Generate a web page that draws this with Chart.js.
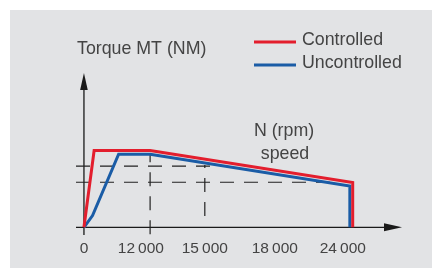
<!DOCTYPE html>
<html>
<head>
<meta charset="utf-8">
<script src="https://cdn.jsdelivr.net/npm/chart.js@4/dist/chart.umd.min.js"></script>
<style>
  html, body { margin: 0; padding: 0; background: #ffffff; }
  #panel { position: absolute; left: 10px; top: 10px; width: 422px; height: 258px; background: #e2e3e5; }
  #wrap { position: absolute; left: 0; top: 0; width: 432px; height: 268px; }
</style>
</head>
<body>
<div id="panel"></div>
<div id="wrap"><canvas id="torqueChart"></canvas></div>
<script>
// schematic axis units (the drawing is not to scale)
const xTickValues = [0, 1.79, 3.8, 6.0, 8.14];
const xTickLabels = ['0', '12\u2009000', '15\u2009000', '18\u2009000', '24\u2009000'];

const controlledX = [0, 0.32, 2.08, 8.45, 8.45];
const controlledY = [0, 4.97, 4.97, 2.9, 0];
const uncontrolledX = [0, 0.27, 1.09, 2.08, 8.36, 8.36];
const uncontrolledY = [0, 0.76, 4.74, 4.74, 2.68, 0];

// dashed guide lines
const hGuideY = [3.96, 2.92];
const hGuideEnd = [4.45, 8.05];
const vGuideX = [2.08, 3.8];
const vGuideFrom = [-0.45, 0.73];
const vGuideTo = [4.69, 4.04];

const seriesLabels = ['Controlled', 'Uncontrolled'];
const yTitle = 'Torque MT (NM)';
const xTitle = ['N (rpm)', 'speed'];

const X_MIN = -0.25, X_MAX = 10;
const Y_MIN = -0.5, Y_MAX = 10;

const textColor = '#444444';
const textFont = '17.8px "Liberation Sans", Arial, sans-serif';

const toPoints = (xs, ys) => xs.map((x, i) => ({ x: x, y: ys[i] }));

const guideSets = [];
hGuideY.forEach((y, i) => {
    guideSets.push({ data: [{ x: X_MIN, y: y }, { x: hGuideEnd[i], y: y }] });
});
vGuideX.forEach((x, i) => {
    guideSets.push({ data: [{ x: x, y: vGuideFrom[i] }, { x: x, y: vGuideTo[i] }] });
});

const lineStyle = {
    pointRadius: 0,
    borderWidth: 3,
    tension: 0,
    borderJoinStyle: 'miter',
    borderCapStyle: 'butt',
    fill: false
};

const datasets = [
    Object.assign({ label: seriesLabels[0], data: toPoints(controlledX, controlledY), borderColor: '#e31e2d', order: 0 }, lineStyle),
    Object.assign({ label: seriesLabels[1], data: toPoints(uncontrolledX, uncontrolledY), borderColor: '#1a5ca6', order: 1 }, lineStyle)
];
guideSets.forEach(g => {
    datasets.push({
        label: '',
        data: g.data,
        borderColor: '#222',
        borderWidth: 1.2,
        borderDash: [14, 10],
        pointRadius: 0,
        fill: false,
        order: 5
    });
});

// axes with arrowheads, legend and free texts
const decorPlugin = {
    id: 'decor',
    beforeDatasetsDraw(chart) {
        const ctx = chart.ctx;
        const xs = chart.scales.x;
        const ys = chart.scales.y;
        const x0 = xs.getPixelForValue(0);
        const y0 = ys.getPixelForValue(0);
        const xLeft = xs.getPixelForValue(X_MIN);
        const xRight = xs.getPixelForValue(X_MAX);
        const yTop = ys.getPixelForValue(Y_MAX);
        const yBottom = ys.getPixelForValue(Y_MIN);

        ctx.save();
        ctx.strokeStyle = '#1a1a1a';
        ctx.fillStyle = '#1a1a1a';
        ctx.lineWidth = 1.3;
        ctx.beginPath();
        ctx.moveTo(x0, yBottom);
        ctx.lineTo(x0, yTop + 10);
        ctx.moveTo(xLeft, y0);
        ctx.lineTo(xRight - 10, y0);
        ctx.stroke();

        ctx.beginPath();
        ctx.moveTo(x0, yTop);
        ctx.lineTo(x0 - 3.8, yTop + 17);
        ctx.lineTo(x0 + 3.8, yTop + 17);
        ctx.closePath();
        ctx.fill();

        ctx.beginPath();
        ctx.moveTo(xRight, y0);
        ctx.lineTo(xRight - 18, y0 - 4);
        ctx.lineTo(xRight - 18, y0 + 4);
        ctx.closePath();
        ctx.fill();
        ctx.restore();
    },
    afterDraw(chart) {
        const ctx = chart.ctx;
        ctx.save();
        ctx.fillStyle = textColor;
        ctx.font = textFont;
        ctx.textBaseline = 'alphabetic';

        ctx.textAlign = 'left';
        ctx.fillText(yTitle, 77, 54);

        ctx.textAlign = 'center';
        ctx.fillText(xTitle[0], 284, 136);
        ctx.fillText(xTitle[1], 285, 159);

        // legend
        const legendY = [45, 68];
        [0, 1].forEach(i => {
            const ds = chart.data.datasets[i];
            ctx.strokeStyle = ds.borderColor;
            ctx.lineWidth = 3;
            ctx.beginPath();
            ctx.moveTo(254, legendY[i] - 3);
            ctx.lineTo(296, legendY[i] - 3);
            ctx.stroke();
            ctx.textAlign = 'left';
            ctx.fillText(ds.label, 302, legendY[i]);
        });
        ctx.restore();
    }
};

const ctx = document.getElementById('torqueChart').getContext('2d');
new Chart(ctx, {
    type: 'line',
    data: { datasets: datasets },
    options: {
        responsive: true,
        maintainAspectRatio: false,
        animation: false,
        layout: { padding: { left: 76, right: 30, top: 73, bottom: 11 } },
        scales: {
            x: {
                type: 'linear',
                min: X_MIN,
                max: X_MAX,
                grid: { display: false, drawTicks: false },
                border: { display: false },
                afterBuildTicks: scale => {
                    scale.ticks = xTickValues.map(v => ({ value: v }));
                },
                afterFit: scale => { scale.height = 22; },
                ticks: {
                    autoSkip: false,
                    maxRotation: 0,
                    padding: 4,
                    color: textColor,
                    font: { family: '"Liberation Sans", Arial, sans-serif', size: 15.5 },
                    callback: (value, index) => xTickLabels[index]
                }
            },
            y: {
                type: 'linear',
                min: Y_MIN,
                max: Y_MAX,
                display: false
            }
        },
        plugins: {
            legend: { display: false },
            tooltip: { enabled: false }
        }
    },
    plugins: [decorPlugin]
});
</script>
</body>
</html>
